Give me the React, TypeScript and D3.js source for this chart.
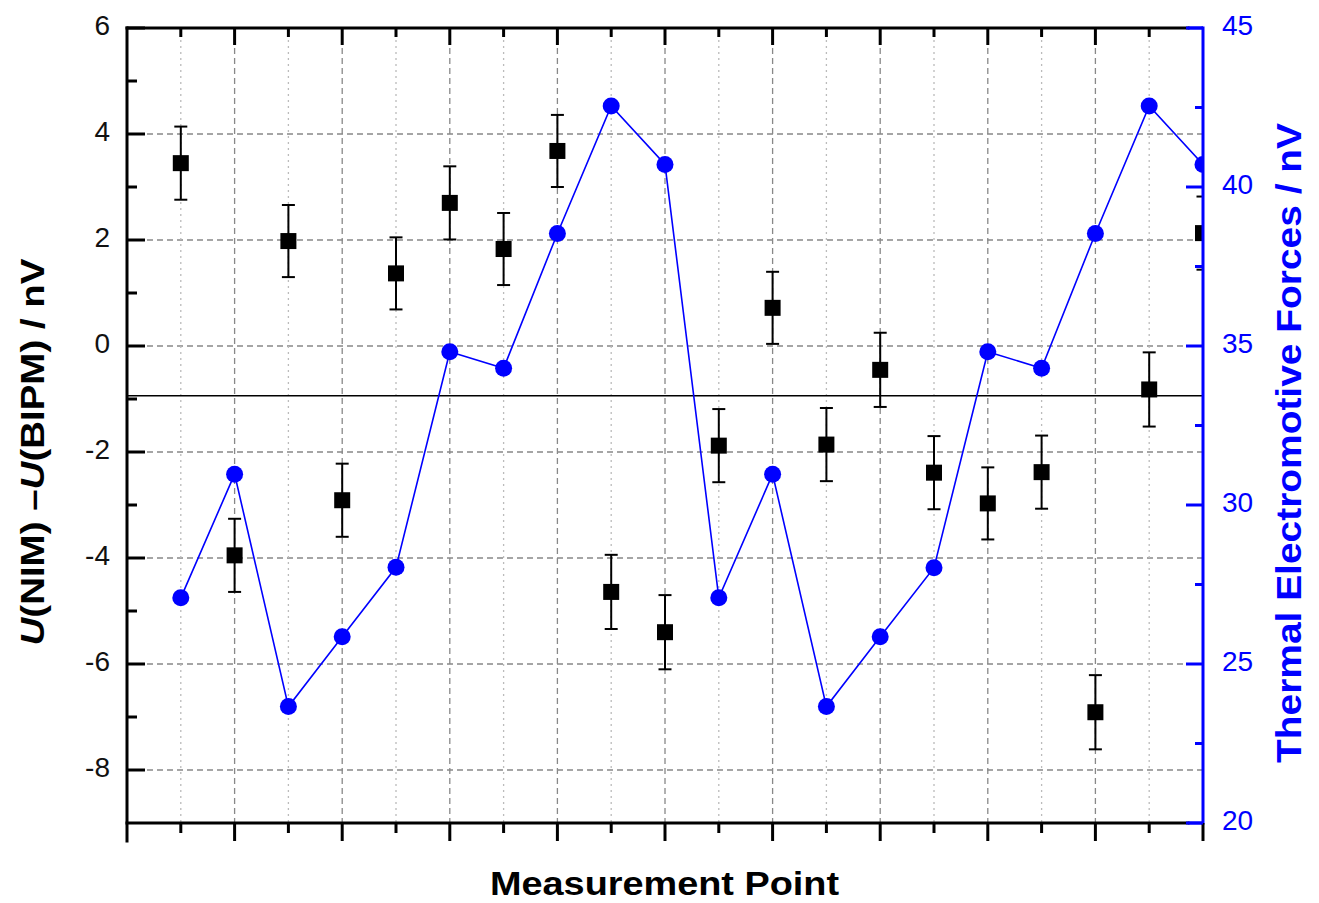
import React from 'react';
import * as d3 from 'd3';

// measurement points 1..20
const points = d3.range(1, 21);
// U(NIM) - U(BIPM), nV (left axis)
const diffValues = [3.45, -3.95, 1.98, -2.91, 1.37, 2.7, 1.83, 3.68, -4.64, -5.4, -1.88, 0.72, -1.86, -0.45, -2.39, -2.97, -2.38, -6.91, -0.82, 2.13];
const diffErrors = [0.69, 0.69, 0.68, 0.69, 0.68, 0.69, 0.68, 0.68, 0.7, 0.7, 0.69, 0.68, 0.69, 0.7, 0.69, 0.68, 0.69, 0.7, 0.7, 0.69];
// thermal electromotive forces, nV (right axis)
const emfValues = [27.08, 30.97, 23.66, 25.86, 28.04, 34.82, 34.3, 38.54, 42.55, 40.71, 27.08, 30.97, 23.66, 25.86, 28.03, 34.82, 34.3, 38.54, 42.55, 40.71];
const meanDiff = -0.94;

const leftTicks = [-8, -6, -4, -2, 0, 2, 4, 6];
const leftMinor = [-7, -5, -3, -1, 1, 3, 5];
const rightTicks = [20, 25, 30, 35, 40, 45];
const rightMinor = [22.5, 27.5, 32.5, 37.5, 42.5];

const width = 1319;
const height = 903;
const margin = { top: 28, right: 116, bottom: 80, left: 127 };
const plotRight = width - margin.right;
const plotBottom = height - margin.bottom;

const BLUE = '#0000ff';
const font = 'Arial, "Liberation Sans", sans-serif';

export default function App() {
  const x = d3.scaleLinear().domain([0, 20]).range([margin.left, plotRight]);
  const yL = d3.scaleLinear().domain([-9, 6]).range([plotBottom, margin.top]);
  const yR = d3.scaleLinear().domain([20, 45]).range([plotBottom, margin.top]);

  const xMajor = d3.range(0, 21, 2);
  const xMinor = d3.range(1, 20, 2);

  const emfLine = d3
    .line<number>()
    .x((d, i) => x(points[i]))
    .y((d) => yR(d));

  const sq = 16;
  const cap = 6.5;

  return (
    <svg
      width={width}
      height={height}
      style={{ position: 'absolute', left: 0, top: 0, background: '#fff' }}
      fontFamily={font}
    >
      <defs>
        <clipPath id="plot">
          <rect x={margin.left} y={margin.top} width={plotRight - margin.left} height={plotBottom - margin.top} />
        </clipPath>
      </defs>

      {/* grid */}
      <g>
        {leftTicks.filter((t) => t < 6).map((t) => (
          <line key={'h' + t} x1={margin.left} x2={plotRight} y1={yL(t)} y2={yL(t)} stroke="#888" strokeWidth={1.3} strokeDasharray="6 4" />
        ))}
        {xMajor.filter((t) => t > 0 && t < 20).map((t) => (
          <line key={'vM' + t} x1={x(t)} x2={x(t)} y1={margin.top} y2={plotBottom} stroke="#888" strokeWidth={1.3} strokeDasharray="6 4" />
        ))}
        {xMinor.map((t) => (
          <line key={'vm' + t} x1={x(t)} x2={x(t)} y1={margin.top} y2={plotBottom} stroke="#bbb" strokeWidth={1.3} strokeDasharray="2 4" />
        ))}
      </g>

      {/* mean line */}
      <line x1={margin.left} x2={plotRight} y1={yL(meanDiff)} y2={yL(meanDiff)} stroke="#000" strokeWidth={1.6} />

      <g clipPath="url(#plot)">
        {/* thermal emf series */}
        <path d={emfLine(emfValues) || ''} fill="none" stroke={BLUE} strokeWidth={1.6} />
        {emfValues.map((v, i) => (
          <circle key={'c' + i} cx={x(points[i])} cy={yR(v)} r={8.5} fill={BLUE} />
        ))}

        {/* difference series with error bars */}
        {diffValues.map((v, i) => {
          const cx = x(points[i]);
          const top = yL(v + diffErrors[i]);
          const bot = yL(v - diffErrors[i]);
          return (
            <g key={'s' + i} stroke="#000" strokeWidth={2}>
              <line x1={cx} x2={cx} y1={top} y2={bot} />
              <line x1={cx - cap} x2={cx + cap} y1={top} y2={top} />
              <line x1={cx - cap} x2={cx + cap} y1={bot} y2={bot} />
              <rect x={cx - sq / 2} y={yL(v) - sq / 2} width={sq} height={sq} fill="#000" stroke="none" />
            </g>
          );
        })}
      </g>

      {/* frame: left, top, bottom */}
      <g stroke="#000" strokeWidth={3} strokeLinecap="square">
        <line x1={margin.left} x2={margin.left} y1={margin.top} y2={plotBottom + 18} />
        <line x1={margin.left} x2={plotRight - 15} y1={margin.top} y2={margin.top} />
        <line x1={margin.left} x2={plotRight - 15} y1={plotBottom} y2={plotBottom} />
      </g>
      <g stroke={BLUE} strokeWidth={3}>
        <line x1={plotRight - 15} x2={plotRight} y1={margin.top} y2={margin.top} />
        <line x1={plotRight - 15} x2={plotRight} y1={plotBottom} y2={plotBottom} />
        <line x1={plotRight} x2={plotRight} y1={margin.top - 1.5} y2={plotBottom + 1.5} />
      </g>

      {/* x ticks, top (inward) and bottom (outward) */}
      <g stroke="#000" strokeWidth={3}>
        {xMajor.filter((t) => t > 0).map((t) => (
          <g key={'xt' + t}>
            {t < 20 && <line x1={x(t)} x2={x(t)} y1={margin.top} y2={margin.top + 17} />}
            <line x1={x(t)} x2={x(t)} y1={plotBottom} y2={plotBottom + 18} />
          </g>
        ))}
        {xMinor.map((t) => (
          <g key={'xm' + t}>
            <line x1={x(t)} x2={x(t)} y1={margin.top} y2={margin.top + 9} />
            <line x1={x(t)} x2={x(t)} y1={plotBottom} y2={plotBottom + 10} />
          </g>
        ))}
      </g>

      {/* left axis ticks and labels */}
      <g>
        {leftTicks.map((t) => (
          <g key={'lt' + t}>
            <line x1={margin.left} x2={margin.left + 18} y1={yL(t)} y2={yL(t)} stroke="#000" strokeWidth={3} />
            <text x={110} y={yL(t) + 7} textAnchor="end" fontSize={28} fill="#111">
              {t}
            </text>
          </g>
        ))}
        {leftMinor.map((t) => (
          <line key={'lm' + t} x1={margin.left} x2={margin.left + 10} y1={yL(t)} y2={yL(t)} stroke="#000" strokeWidth={3} />
        ))}
      </g>

      {/* right axis ticks and labels */}
      <g>
        {rightTicks.map((t) => (
          <g key={'rt' + t}>
            <line x1={plotRight} x2={plotRight - 17} y1={yR(t)} y2={yR(t)} stroke={BLUE} strokeWidth={3} />
            <text x={1222} y={yR(t) + 7} textAnchor="start" fontSize={28} fill={BLUE}>
              {t}
            </text>
          </g>
        ))}
        {rightMinor.map((t) => (
          <line key={'rm' + t} x1={plotRight} x2={plotRight - 8} y1={yR(t)} y2={yR(t)} stroke={BLUE} strokeWidth={3} />
        ))}
      </g>

      {/* axis titles */}
      <text x={664.5} y={895} textAnchor="middle" fontSize={34} fontWeight="bold" textLength={349} lengthAdjust="spacingAndGlyphs">
        Measurement Point
      </text>
      <text
        transform="translate(44,452) rotate(-90)"
        textAnchor="middle"
        fontSize={34}
        fontWeight="bold"
        textLength={387}
        lengthAdjust="spacingAndGlyphs"
      >
        <tspan fontStyle="italic">U</tspan>(NIM) –<tspan fontStyle="italic">U</tspan>(BIPM) / nV
      </text>
      <text
        transform="translate(1301,443) rotate(-90)"
        textAnchor="middle"
        fontSize={35}
        fontWeight="bold"
        fill={BLUE}
        textLength={640}
        lengthAdjust="spacingAndGlyphs"
      >
        Thermal Electromotive Forces / nV
      </text>
    </svg>
  );
}
